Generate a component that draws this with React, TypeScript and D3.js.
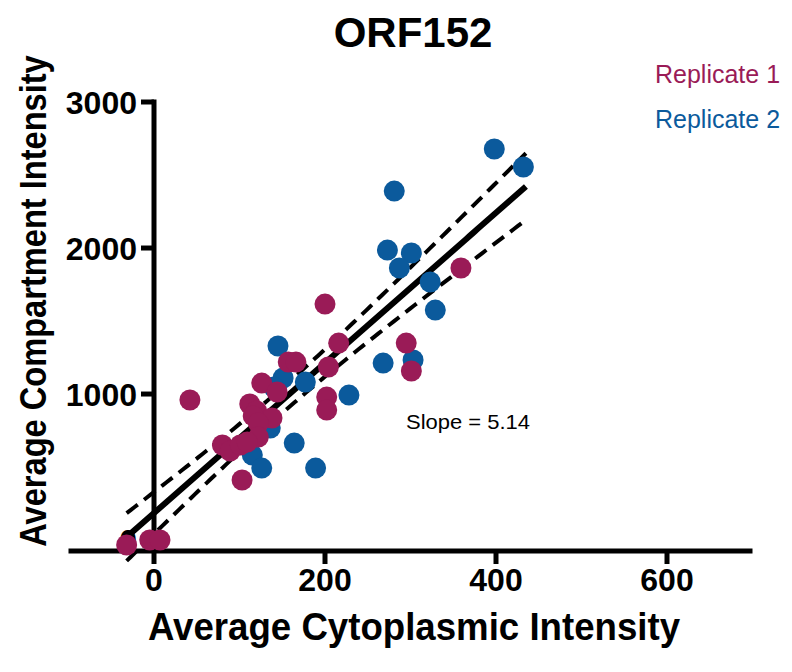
import React from "react";
import * as d3 from "d3";

// Replicate 1 (x: average cytoplasmic intensity, y: average compartment intensity)
const rep1X = [359, 200, 216, 157, 166, 204, 295, 301, 126, 144, 202, 202, 42, 112, 120, 116, 138, 122, 122, 80, 89, 101, 109, 103, -32, -5, 7];
const rep1Y = [1863, 1616, 1349, 1219, 1219, 1185, 1349, 1158, 1075, 1014, 979, 890, 959, 932, 884, 850, 836, 801, 705, 651, 610, 651, 671, 411, -34, 0, 0];

// Replicate 2
const rep2X = [398, 432, 281, 273, 301, 287, 323, 329, 303, 268, 145, 151, 177, 228, 136, 164, 115, 126, 189, 140];
const rep2Y = [2678, 2555, 2390, 1986, 1966, 1863, 1767, 1575, 1233, 1212, 1329, 1110, 1082, 993, 767, 664, 582, 493, 493, 1048];

// Linear fit and its 95% confidence band
const fitSlope = 5.14;
const fitIntercept = 185;
const fitXRange = [-32, 435];
const ciTS = 603; // t * residual SD
const ciN = 48;
const ciXMean = 153;
const ciSxx = 650000;

const xTicks = [0, 200, 400, 600];
const yTicks = [0, 1000, 2000, 3000];
const seriesNames = ["Replicate 1", "Replicate 2"];
const seriesColors = ["#9a1b57", "#0b5a9c"];

const FONT = "'Liberation Sans', Arial, sans-serif";

export default function App() {
  const x = d3.scaleLinear().domain([-100, 700]).range([68.5, 752.5]);
  const y = d3.scaleLinear().domain([-75, 3000]).range([551, 102]);

  const xs = d3.range(fitXRange[0], fitXRange[1] + 0.001, (fitXRange[1] - fitXRange[0]) / 100);
  const hw = (v: number) => ciTS * Math.sqrt(1 / ciN + ((v - ciXMean) ** 2) / ciSxx);
  const fit = (v: number) => fitIntercept + fitSlope * v;
  const line = d3.line<number[]>().x((d) => x(d[0])).y((d) => y(d[1]));
  const mainPath = line(xs.map((v) => [v, fit(v)])) || "";
  const upperPath = line(xs.map((v) => [v, fit(v) + hw(v)])) || "";
  const lowerPath = line(xs.map((v) => [v, fit(v) - hw(v)])) || "";

  const rep1 = rep1X.map((v, i) => [v, rep1Y[i]]);
  const rep2 = rep2X.map((v, i) => [v, rep2Y[i]]);

  return (
    <svg width={792} height={672} style={{ position: "absolute", left: 0, top: 0, background: "#fff" }} fontFamily={FONT}>
      <rect width={792} height={672} fill="#fff" />
      <text x={413} y={47} textAnchor="middle" fontSize={42} fontWeight="bold">ORF152</text>

      {/* legend */}
      {seriesNames.map((n, i) => (
        <text key={n} x={655} y={83 + i * 45} fontSize={25} fill={seriesColors[i]}>{n}</text>
      ))}

      {/* y axis */}
      <line x1={x(0)} x2={x(0)} y1={y(3000) - 2.5} y2={y(-75)} stroke="#000" strokeWidth={5} />
      {yTicks.map((t) => (
        <g key={"y" + t}>
          <line x1={x(0) - 13} x2={x(0)} y1={y(t)} y2={y(t)} stroke="#000" strokeWidth={5} />
          <text x={137} y={y(t)} dy="0.36em" textAnchor="end" fontSize={32} fontWeight="bold">{t}</text>
        </g>
      ))}

      {/* x axis */}
      <line x1={x(-100)} x2={x(700)} y1={y(-75)} y2={y(-75)} stroke="#000" strokeWidth={5} />
      {xTicks.map((t) => (
        <g key={"x" + t}>
          <line x1={x(t)} x2={x(t)} y1={y(-75)} y2={y(-75) + 13} stroke="#000" strokeWidth={5} />
          <text x={x(t)} y={591} textAnchor="middle" fontSize={32} fontWeight="bold">{t}</text>
        </g>
      ))}

      {/* fit */}
      <path d={upperPath} fill="none" stroke="#000" strokeWidth={4} strokeDasharray="14 8" />
      <path d={lowerPath} fill="none" stroke="#000" strokeWidth={4} strokeDasharray="14 8" />
      <path d={mainPath} fill="none" stroke="#000" strokeWidth={6} />

      {/* points */}
      {rep2.map((d, i) => (
        <circle key={"b" + i} cx={x(d[0])} cy={y(d[1])} r={10.5} fill={seriesColors[1]} />
      ))}
      {rep1.map((d, i) => (
        <circle key={"p" + i} cx={x(d[0])} cy={y(d[1])} r={10.5} fill={seriesColors[0]} />
      ))}

      <text x={406} y={429} fontSize={21} fill="#000" textLength={124} lengthAdjust="spacingAndGlyphs">Slope = 5.14</text>

      {/* axis titles */}
      <text x={414} y={640} textAnchor="middle" fontSize={38} fontWeight="bold" textLength={532} lengthAdjust="spacingAndGlyphs">
        Average Cytoplasmic Intensity
      </text>
      <text transform="translate(46,301) rotate(-90) scale(1,1.15)" textAnchor="middle" fontSize={32.6} fontWeight="bold">
        Average Compartment Intensity
      </text>
    </svg>
  );
}
